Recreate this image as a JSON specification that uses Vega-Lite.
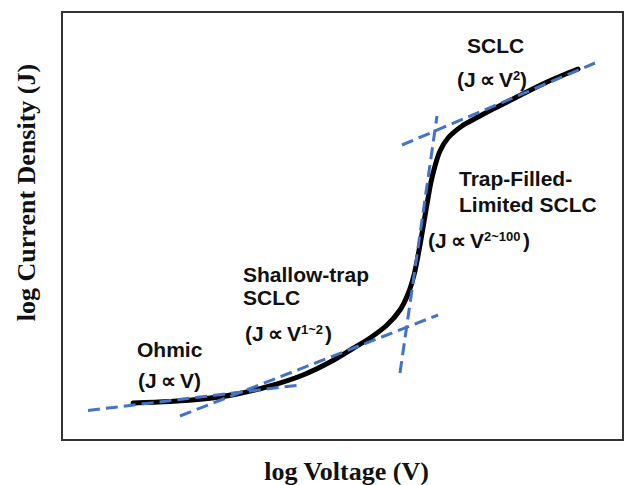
{
  "$schema": "https://vega.github.io/schema/vega-lite/v6.json",
  "width": 561,
  "height": 428,
  "autosize": {"type": "none"},
  "padding": {"left": 62, "top": 12, "right": 2, "bottom": 45},
  "background": "white",
  "config": {
    "view": {"stroke": "#333333", "strokeWidth": 2},
    "axis": {"grid": false, "ticks": false, "labels": false, "domain": false,
             "titleFont": "Liberation Serif", "titleFontSize": 26, "titleFontWeight": "bold", "titleColor": "#111111"}
  },
  "datasets": {
    "curve": [
      {"v": 71, "j": 37}, {"v": 108, "j": 38.5}, {"v": 141, "j": 41}, {"v": 175, "j": 46},
      {"v": 208, "j": 54}, {"v": 241, "j": 65}, {"v": 270, "j": 79}, {"v": 290, "j": 91},
      {"v": 308, "j": 102}, {"v": 325, "j": 115}, {"v": 338, "j": 130}, {"v": 346, "j": 146},
      {"v": 352, "j": 165}, {"v": 358, "j": 195}, {"v": 364, "j": 230}, {"v": 369, "j": 258},
      {"v": 373, "j": 274}, {"v": 378, "j": 289}, {"v": 386, "j": 302}, {"v": 400, "j": 314},
      {"v": 416, "j": 323}, {"v": 433, "j": 332}, {"v": 453, "j": 342}, {"v": 485, "j": 358},
      {"v": 516, "j": 371}
    ],
    "tangents": [
      {"seg": "ohmic", "v": 26, "j": 29.5}, {"seg": "ohmic", "v": 238, "j": 55},
      {"seg": "shallow", "v": 118, "j": 24}, {"seg": "shallow", "v": 376, "j": 125},
      {"seg": "tfl", "v": 338, "j": 67}, {"seg": "tfl", "v": 375, "j": 324},
      {"seg": "sclc", "v": 340, "j": 295}, {"seg": "sclc", "v": 533, "j": 377}
    ],
    "labels": [
      {"v": 405, "j": 387, "text": "SCLC"},
      {"v": 397, "j": 254, "text": "Trap-Filled-"},
      {"v": 397, "j": 228, "text": "Limited SCLC"},
      {"v": 181, "j": 158, "text": "Shallow-trap"},
      {"v": 181, "j": 135, "text": "SCLC"},
      {"v": 75, "j": 83, "text": "Ohmic"},
      {"v": 76, "j": 52, "text": "(J\u2009∝\u2009V)"}
    ],
    "formulas": [
      {"v": 395, "j": 353, "base": "(J\u2009∝\u2009V", "sup": "2", "vc": 458},
      {"v": 366, "j": 192, "base": "(J\u2009∝\u2009V", "sup": "2~100", "vc": 461},
      {"v": 183, "j": 99, "base": "(J\u2009∝\u2009V", "sup": "1~2", "vc": 263}
    ]
  },
  "encoding": {
    "x": {"field": "v", "type": "quantitative", "scale": {"domain": [0, 561], "nice": false, "zero": false},
          "axis": {"title": "log Voltage (V)", "titleBaseline": "alphabetic", "titlePadding": 39, "titleX": 284}},
    "y": {"field": "j", "type": "quantitative", "scale": {"domain": [0, 428], "nice": false, "zero": false},
          "axis": {"title": "log Current Density (J)", "titleBaseline": "alphabetic", "titleX": -28, "titleY": 180, "titleAngle": -90}}
  },
  "layer": [
    {"data": {"name": "curve"},
     "mark": {"type": "line", "color": "#000000", "strokeWidth": 5, "interpolate": "catmull-rom", "strokeCap": "round"}},
    {"data": {"name": "tangents"},
     "mark": {"type": "line", "color": "#4472C4", "strokeWidth": 3, "strokeDash": [12, 6]},
     "encoding": {"detail": {"field": "seg"}}},
    {"data": {"name": "labels"},
     "mark": {"type": "text", "align": "left", "baseline": "alphabetic", "font": "Liberation Sans", "fontSize": 21, "fontWeight": "bold", "color": "#111111"},
     "encoding": {"text": {"field": "text"}}},
    {"data": {"name": "formulas"},
     "mark": {"type": "text", "align": "left", "baseline": "alphabetic", "font": "Liberation Sans", "fontSize": 21, "fontWeight": "bold", "color": "#111111"},
     "encoding": {"text": {"field": "base"}}},
    {"data": {"name": "formulas"},
     "mark": {"type": "text", "align": "left", "baseline": "alphabetic", "font": "Liberation Sans", "fontSize": 13, "fontWeight": "bold", "color": "#111111", "dx": 56, "dy": -7},
     "encoding": {"text": {"field": "sup"}}},
    {"data": {"name": "formulas"},
     "mark": {"type": "text", "align": "left", "baseline": "alphabetic", "font": "Liberation Sans", "fontSize": 21, "fontWeight": "bold", "color": "#111111", "text": ")"},
     "encoding": {"x": {"field": "vc", "type": "quantitative"}}}
  ]
}
